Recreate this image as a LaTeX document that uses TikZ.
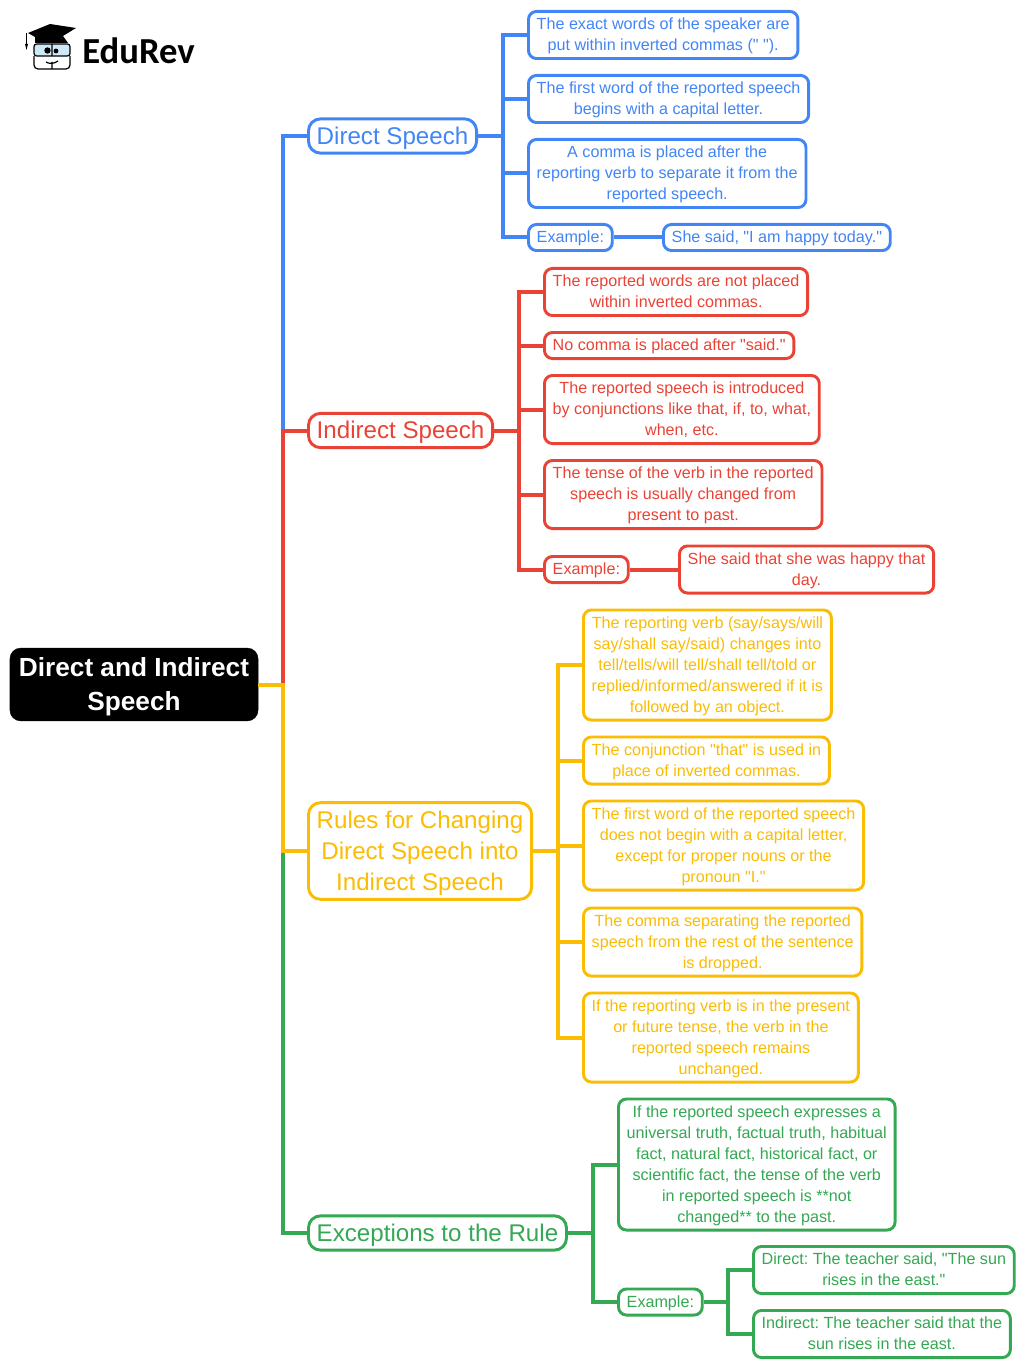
\documentclass[tikz,border=0pt]{standalone}
\usepackage{fontspec}
\setmainfont[Ligatures=TeXOff]{Liberation Sans}
\newfontfamily\logofont{Carlito}
\AtBeginDocument{\frenchspacing}
\definecolor{mapblue}{HTML}{4285F4}
\definecolor{mapred}{HTML}{EA4335}
\definecolor{mapyellow}{HTML}{FBBC04}
\definecolor{mapgreen}{HTML}{34A853}
\definecolor{lensblue}{HTML}{CFE8F7}
\newcommand{\up}{\rule{0pt}{13.6pt}}
\tikzset{
  leaf/.style={draw=#1, text=#1, fill=white, rounded corners=6pt, line width=2.2pt,
    align=center, inner xsep=6.2pt, inner ysep=0pt, anchor=west, xshift=-0.75pt,
    font=\fontsize{12.1}{15.75}\selectfont,
    execute at end node={\rule[-5.95pt]{0pt}{5.95pt}}},
  topic/.style={leaf=#1, rounded corners=9pt,
    font=\fontsize{18.1}{23.4}\selectfont,
    execute at begin node={\renewcommand{\up}{\rule{0pt}{19.2pt}}},
    execute at end node={\rule[-6.5pt]{0pt}{6.5pt}}},
  wire/.style={draw=#1, line width=3pt},
}
\begin{document}
\begin{tikzpicture}[x=0.75pt, y=-0.75pt]
		\path[use as bounding box] (0,0) rectangle (1024,1369);
		% logo
		\fill (28,33) -- (50,24) -- (76,28) -- (63,36) -- (68,43) -- (35,43) -- (35,37) -- cycle;
		\draw[line width=0.8pt] (26.5,33) -- (26.5,45);
		\fill (25,44) -- (28,44) -- (26.5,50) -- cycle;
		\draw[line width=0.9pt, fill=lensblue, rounded corners=2pt] (34,44) rectangle (70,56);
		\draw[line width=0.9pt, rounded corners=3pt] (34,56) -- (34,69) -- (70,69) -- (70,56);
		\draw[line width=0.9pt] (52,44) -- (52,56) (52,62) -- (52,69) (46,62) .. controls (49,64) and (54,64) .. (58,61);
		\fill (47.5,50.5) circle (3.2) (56,51) circle (2.4);
		\node[anchor=west, inner sep=0pt, font=\fontsize{27.5}{30}\logofont\bfseries] (logo) at (82,51) {EduRev};
		% centre
		\node[draw=black, fill=black, text=white, rounded corners=8pt, align=center, minimum width=186pt,
		  minimum height=54.5pt, inner sep=0pt, font=\fontsize{19.65}{25.5}\selectfont\bfseries,
		  execute at begin node={\renewcommand{\up}{\rule{0pt}{18pt}}}, execute at end node={\rule[-4.7pt]{0pt}{4.7pt}}] (root) at (134,684.5)
		  {\up Direct and Indirect\\Speech};
		\coordinate (trunk) at (283,684.5);
		% topics
		\node[topic=mapblue] (direct) at (308,136) {\up Direct Speech};
		\node[topic=mapred] (indirect) at (308,430.5) {\up Indirect Speech};
		\node[topic=mapyellow] (rules) at (308,851) {\up Rules for Changing\\Direct Speech into\\Indirect Speech};
		\node[topic=mapgreen] (except) at (308,1233) {\up Exceptions to the Rule};
		\draw[wire=mapblue] (direct.west) -| (trunk);
		\draw[wire=mapred] (indirect.west) -| (trunk);
		\draw[wire=mapgreen] (except.west) -| (trunk |- rules.west);
		\draw[wire=mapyellow] (root.east) -- (trunk) |- (rules.west);
		% direct speech
		\coordinate (dbus) at (503,136);
		\node[leaf=mapblue] (d1) at (528,35) {\up The exact words of the speaker are\\put within inverted commas (" ").};
		\node[leaf=mapblue] (d2) at (528,99) {\up The first word of the reported speech\\begins with a capital letter.};
		\node[leaf=mapblue] (d3) at (528,173.5) {\up A comma is placed after the\\reporting verb to separate it from the\\reported speech.};
		\node[leaf=mapblue] (dex) at (528,237.5) {\up Example:};
		\node[leaf=mapblue] (dsaid) at (663,237.5) {\up She said, "I am happy today."};
		\draw[wire=mapblue] (d1.west) -| (dbus) |- (dex.west);
		\draw[wire=mapblue] (direct.east) -- (dbus) (dbus |- d2.west) -- (d2.west) (dbus |- d3.west) -- (d3.west);
		\draw[wire=mapblue] (dex.east) -- (dsaid.west);
		% indirect speech
		\coordinate (ibus) at (519,430.5);
		\node[leaf=mapred] (i1) at (544,292) {\up The reported words are not placed\\within inverted commas.};
		\node[leaf=mapred] (i2) at (544,345.5) {\up No comma is placed after "said."};
		\node[leaf=mapred] (i3) at (544,409.5) {\up The reported speech is introduced\\by conjunctions like that, if, to, what,\\when, etc.};
		\node[leaf=mapred] (i4) at (544,494.5) {\up The tense of the verb in the reported\\speech is usually changed from\\present to past.};
		\node[leaf=mapred] (iex) at (544,569.5) {\up Example:};
		\node[leaf=mapred] (isaid) at (679,569.5) {\up She said that she was happy that\\day.};
		\draw[wire=mapred] (i1.west) -| (ibus) |- (iex.west);
		\draw[wire=mapred] (indirect.east) -- (ibus) (ibus |- i2.west) -- (i2.west) (ibus |- i3.west) -- (i3.west) (ibus |- i4.west) -- (i4.west);
		\draw[wire=mapred] (iex.east) -- (isaid.west);
		% rules
		\coordinate (rbus) at (558,851);
		\node[leaf=mapyellow] (r1) at (583,665) {\up The reporting verb (say/says/will\\say/shall say/said) changes into\\tell/tells/will tell/shall tell/told or\\replied/informed/answered if it is\\followed by an object.};
		\node[leaf=mapyellow] (r2) at (583,760.5) {\up The conjunction "that" is used in\\place of inverted commas.};
		\node[leaf=mapyellow] (r3) at (583,845.5) {\up The first word of the reported speech\\does not begin with a capital letter,\\except for proper nouns or the\\pronoun "I."};
		\node[leaf=mapyellow] (r4) at (583,942) {\up The comma separating the reported\\speech from the rest of the sentence\\is dropped.};
		\node[leaf=mapyellow] (r5) at (583,1037.5) {\up If the reporting verb is in the present\\or future tense, the verb in the\\reported speech remains\\unchanged.};
		\draw[wire=mapyellow] (r1.west) -| (rbus) |- (r5.west);
		\draw[wire=mapyellow] (rules.east) -- (rbus) (rbus |- r2.west) -- (r2.west) (rbus |- r3.west) -- (r3.west) (rbus |- r4.west) -- (r4.west);
		% exceptions
		\coordinate (ebus) at (593,1233);
		\node[leaf=mapgreen] (e1) at (618,1164.5) {\up If the reported speech expresses a\\universal truth, factual truth, habitual\\fact, natural fact, historical fact, or\\scientific fact, the tense of the verb\\in reported speech is **not\\changed** to the past.};
		\node[leaf=mapgreen] (eex) at (618,1302) {\up Example:};
		\coordinate (xbus) at (728,1302);
		\node[leaf=mapgreen] (x1) at (753,1270) {\up Direct: The teacher said, "The sun\\rises in the east."};
		\node[leaf=mapgreen] (x2) at (753,1334) {\up Indirect: The teacher said that the\\sun rises in the east.};
		\draw[wire=mapgreen] (e1.west) -| (ebus) |- (eex.west);
		\draw[wire=mapgreen] (except.east) -- (ebus);
		\draw[wire=mapgreen] (x1.west) -| (xbus) |- (x2.west);
		\draw[wire=mapgreen] (eex.east) -- (xbus);
	\end{tikzpicture}
\end{document}
